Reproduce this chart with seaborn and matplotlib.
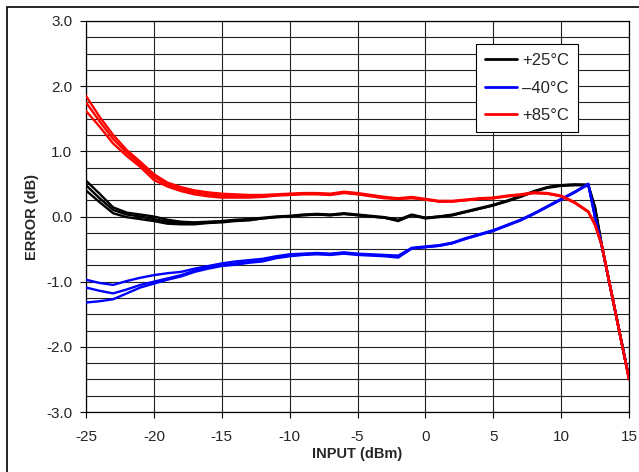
import numpy as np
import pandas as pd
import matplotlib
matplotlib.use('Agg')
import matplotlib.pyplot as plt
import seaborn as sns
from matplotlib.patches import Rectangle

# input sweep (dBm)
x_in = [-25, -24, -23, -22, -21, -20, -19, -18, -17, -16, -15, -14, -13, -12,
        -11, -10, -9, -8, -7, -6, -5, -4, -3, -2, -1, 0, 1, 2, 3, 4, 5, 6,
        7, 8, 9, 10, 11, 12, 12.5, 13, 14, 15]

# +25°C, three parts
t25_a = [0.55, 0.35, 0.14, 0.06, 0.03, 0.00, -0.05, -0.08, -0.09, -0.08, -0.07,
         -0.05, -0.04, -0.02, 0.00, 0.01, 0.03, 0.04, 0.03, 0.05, 0.03, 0.01,
         -0.01, -0.05, 0.03, -0.02, 0.00, 0.03, 0.08, 0.13, 0.18, 0.24, 0.31,
         0.39, 0.45, 0.48, 0.49, 0.49, 0.12, -0.45, -1.47, -2.48]
t25_b = [0.48, 0.28, 0.10, 0.03, 0.00, -0.04, -0.08, -0.10, -0.10, -0.09, -0.08,
         -0.06, -0.05, -0.03, -0.01, 0.00, 0.02, 0.03, 0.02, 0.04, 0.02, 0.00,
         -0.02, -0.07, 0.02, -0.03, -0.01, 0.02, 0.07, 0.12, 0.17, 0.23, 0.30,
         0.38, 0.44, 0.47, 0.48, 0.48, 0.15, -0.44, -1.46, -2.47]
t25_c = [0.40, 0.22, 0.05, -0.01, -0.04, -0.07, -0.11, -0.12, -0.12, -0.10, -0.09,
         -0.07, -0.06, -0.03, -0.01, 0.00, 0.02, 0.03, 0.02, 0.04, 0.02, 0.00,
         -0.02, -0.06, 0.02, -0.02, 0.00, 0.02, 0.07, 0.12, 0.17, 0.24, 0.31,
         0.38, 0.45, 0.48, 0.49, 0.48, 0.10, -0.46, -1.48, -2.49]

# -40°C
m40_a = [-0.97, -1.02, -1.05, -0.99, -0.94, -0.90, -0.87, -0.85, -0.80, -0.76,
         -0.72, -0.69, -0.67, -0.65, -0.61, -0.58, -0.57, -0.56, -0.57, -0.55,
         -0.57, -0.58, -0.59, -0.60, -0.48, -0.46, -0.44, -0.40, -0.33, -0.27,
         -0.21, -0.13, -0.05, 0.05, 0.16, 0.27, 0.38, 0.50, 0.00, -0.45,
         -1.46, -2.48]
m40_b = [-1.09, -1.14, -1.18, -1.12, -1.05, -1.00, -0.95, -0.90, -0.83, -0.78,
         -0.75, -0.72, -0.70, -0.67, -0.63, -0.60, -0.58, -0.57, -0.58, -0.56,
         -0.58, -0.59, -0.60, -0.62, -0.49, -0.47, -0.45, -0.41, -0.34, -0.28,
         -0.22, -0.14, -0.06, 0.04, 0.15, 0.26, 0.37, 0.49, -0.02, -0.46,
         -1.47, -2.49]
m40_c = [-1.32, -1.30, -1.27, -1.18, -1.09, -1.03, -0.97, -0.92, -0.85, -0.80,
         -0.76, -0.74, -0.71, -0.69, -0.64, -0.61, -0.59, -0.58, -0.59, -0.57,
         -0.59, -0.60, -0.61, -0.63, -0.49, -0.47, -0.45, -0.41, -0.34, -0.28,
         -0.22, -0.14, -0.06, 0.04, 0.15, 0.26, 0.37, 0.50, -0.01, -0.46,
         -1.47, -2.49]

# +85°C
t85_a = [1.85, 1.53, 1.25, 1.02, 0.84, 0.65, 0.52, 0.45, 0.40, 0.37, 0.35,
         0.34, 0.33, 0.33, 0.34, 0.35, 0.36, 0.36, 0.35, 0.38, 0.36, 0.33,
         0.30, 0.28, 0.30, 0.27, 0.24, 0.24, 0.26, 0.28, 0.29, 0.32, 0.34,
         0.37, 0.36, 0.32, 0.22, 0.08, -0.12, -0.44, -1.46, -2.49]
t85_b = [1.75, 1.46, 1.19, 0.98, 0.80, 0.61, 0.49, 0.42, 0.37, 0.34, 0.32,
         0.31, 0.31, 0.31, 0.33, 0.34, 0.35, 0.35, 0.34, 0.37, 0.35, 0.32,
         0.29, 0.27, 0.29, 0.26, 0.23, 0.23, 0.25, 0.27, 0.28, 0.31, 0.33,
         0.36, 0.35, 0.31, 0.21, 0.07, -0.13, -0.45, -1.47, -2.50]
t85_c = [1.62, 1.38, 1.12, 0.93, 0.76, 0.56, 0.46, 0.39, 0.34, 0.31, 0.29,
         0.29, 0.29, 0.30, 0.32, 0.33, 0.34, 0.34, 0.33, 0.36, 0.34, 0.31,
         0.28, 0.27, 0.28, 0.26, 0.23, 0.23, 0.25, 0.27, 0.28, 0.31, 0.33,
         0.36, 0.35, 0.31, 0.21, 0.07, -0.13, -0.45, -1.47, -2.50]

temp_labels = ['+25°C', '\u201340°C', '+85°C']
temp_colors = ['black', '#0000FF', '#FF0000']
traces = {temp_labels[0]: [t25_a, t25_b, t25_c],
          temp_labels[1]: [m40_a, m40_b, m40_c],
          temp_labels[2]: [t85_a, t85_b, t85_c]}

rows = []
for temp, curves in traces.items():
    for k, ys in enumerate(curves):
        for xv, yv in zip(x_in, ys):
            rows.append({'input': xv, 'error': yv, 'temp': temp,
                         'unit': f'{temp}_{k}'})
df = pd.DataFrame(rows)

sns.set_style('white')
plt.rcParams['font.family'] = ['Liberation Sans', 'DejaVu Sans']
plt.rcParams['axes.unicode_minus'] = False

fig = plt.figure(figsize=(6.39, 4.72), dpi=100)
ax = fig.add_axes([86/639, 1 - 412/472, (629-86)/639, (412-21)/472])

sns.lineplot(data=df, x='input', y='error', hue='temp', units='unit',
             estimator=None, palette=dict(zip(temp_labels, temp_colors)),
             hue_order=temp_labels, lw=1.7, legend=False, ax=ax, zorder=3)

ax.set_xlim(-25, 15)
ax.set_ylim(-3, 3)
ax.set_xticks(np.arange(-25, 16, 5))
ax.set_yticks(np.arange(-3, 3.01, 1.0))
ax.set_yticks(np.arange(-3, 3.01, 0.25), minor=True)
ax.set_yticklabels([f'{v:.1f}' for v in np.arange(-3, 3.01, 1.0)])
ax.tick_params(axis='both', which='major', labelsize=11, direction='out',
               length=4, width=0.8, color='black', left=True, bottom=True)
ax.tick_params(axis='x', which='major', pad=9)
ax.tick_params(axis='y', which='major', pad=6)
ax.tick_params(axis='y', which='minor', length=0, left=False)
ax.grid(True, which='major', axis='x', color='#222222', lw=0.8)
ax.grid(True, which='both', axis='y', color='#222222', lw=0.8)
for s in ax.spines.values():
    s.set_color('black')
    s.set_linewidth(0.9)

ax.set_xlabel('INPUT (dBm)', fontsize=10.5, fontweight='bold', labelpad=2)
ax.set_ylabel('ERROR (dB)', fontsize=10.5, fontweight='bold', labelpad=5)

handles = [plt.Line2D([], [], color=c, lw=2) for c in temp_colors]
leg = ax.legend(handles, temp_labels, loc='upper right',
                bbox_to_anchor=(0.906, 0.941), borderaxespad=0,
                fontsize=12, frameon=True, fancybox=False, handlelength=1.9,
                handletextpad=0.3, labelspacing=0.75, borderpad=0.55)
leg.get_frame().set_edgecolor('black')
leg.get_frame().set_linewidth(0.8)
leg.get_frame().set_alpha(1)
leg.set_zorder(5)

# outer frame (cropped at right/bottom)
fig.patches.append(Rectangle((7/639, -0.1), 1.2, 1 - 7/472 + 0.1,
                             transform=fig.transFigure, fill=False,
                             edgecolor='black', lw=1.2))

fig.savefig('out.png', dpi=100)
